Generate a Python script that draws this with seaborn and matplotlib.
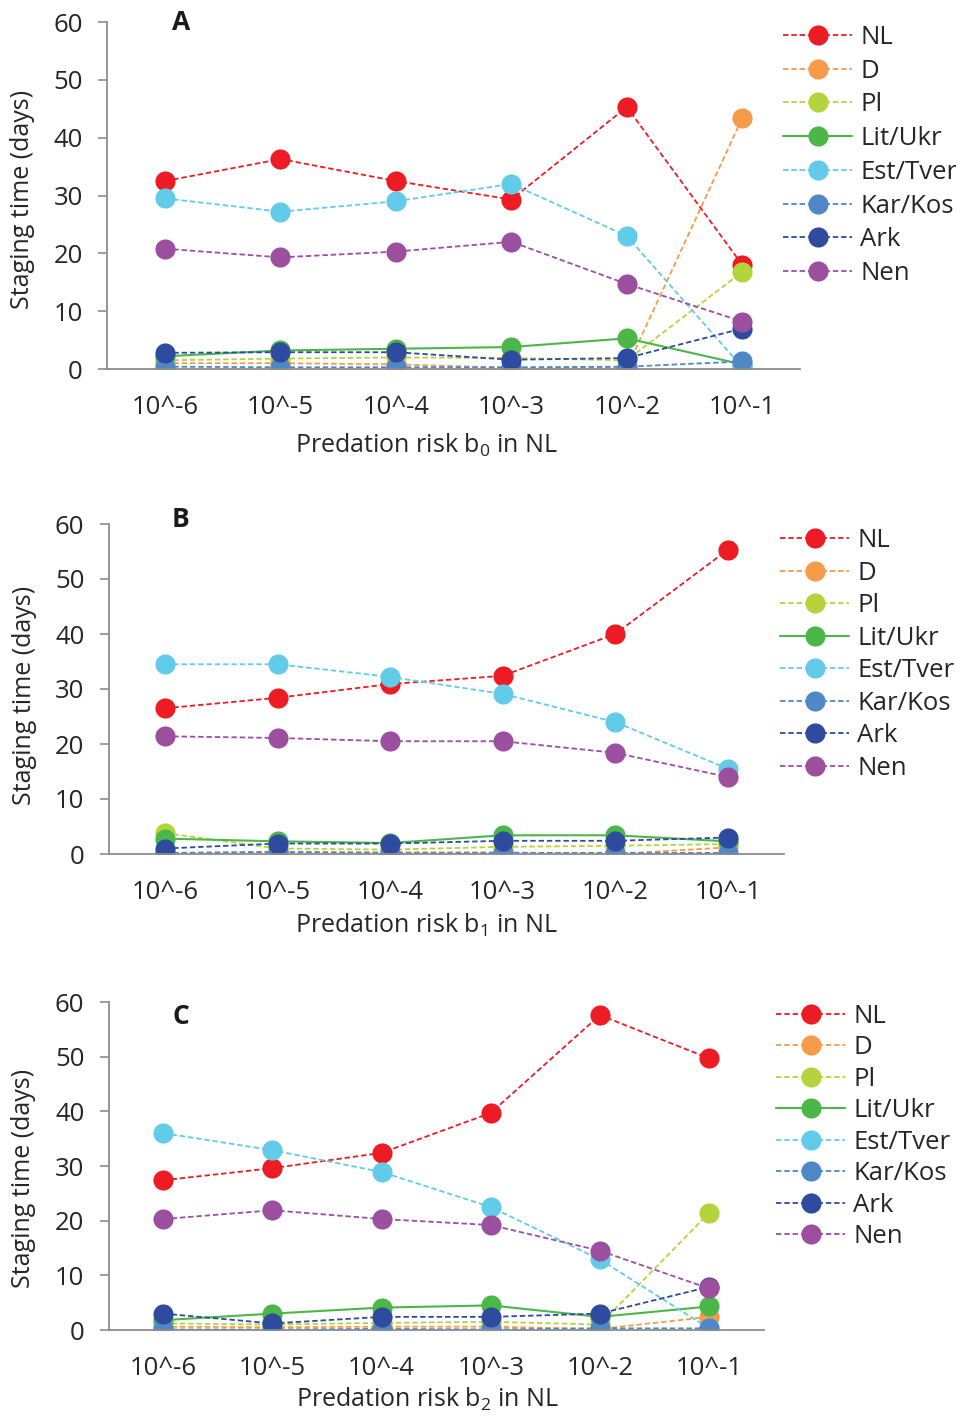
import matplotlib
matplotlib.use("Agg")
import matplotlib.pyplot as plt
import seaborn as sns
import numpy as np

sns.set_theme(style="white")
plt.rcParams['font.family'] = ['Open Sans', 'DejaVu Sans']
plt.rcParams['mathtext.fontset'] = 'custom'
plt.rcParams['mathtext.rm'] = 'Open Sans'
plt.rcParams['mathtext.it'] = 'Open Sans'

# ---------------- data ----------------
tick_labels = ["10^-6", "10^-5", "10^-4", "10^-3", "10^-2", "10^-1"]
regions = ["NL", "D", "Pl", "Lit/Ukr", "Est/Tver", "Kar/Kos", "Ark", "Nen"]

# Panel A (predation risk b0)
nl_a = [32.5, 36.3, 32.5, 29.3, 45.3, 18.0]
d_a = [1.0, 1.0, 0.8, 0.2, 0.2, 43.4]
pl_a = [1.5, 1.8, 2.0, 1.9, 1.5, 16.8]
lit_a = [2.2, 3.2, 3.5, 3.8, 5.3, 0.8]
est_a = [29.5, 27.2, 29.0, 32.0, 23.0, 0.3]
kar_a = [0.4, 0.3, 0.3, 0.3, 0.4, 1.3]
ark_a = [2.8, 2.9, 2.9, 1.6, 1.9, 7.0]
nen_a = [20.8, 19.3, 20.3, 22.0, 14.7, 8.2]

# Panel B (predation risk b1)
nl_b = [26.5, 28.4, 30.9, 32.4, 40.0, 55.3]
d_b = [0.0, 0.3, 0.3, 0.3, 0.0, 1.2]
pl_b = [3.8, 1.0, 0.8, 1.3, 1.5, 1.8]
lit_b = [2.8, 2.3, 2.0, 3.4, 3.4, 2.3]
est_b = [34.5, 34.5, 32.2, 29.1, 24.0, 15.5]
kar_b = [0.2, 0.4, 0.2, 0.2, 0.2, 0.2]
ark_b = [1.0, 1.9, 1.9, 2.4, 2.4, 3.0]
nen_b = [21.4, 21.1, 20.5, 20.5, 18.4, 14.0]

# Panel C (predation risk b2)
nl_c = [27.4, 29.6, 32.4, 39.7, 57.6, 49.7]
d_c = [0.6, 0.5, 0.6, 0.6, 0.2, 2.4]
pl_c = [1.2, 1.0, 1.3, 1.5, 1.0, 21.4]
lit_c = [1.8, 3.0, 4.1, 4.5, 2.4, 4.3]
est_c = [36.0, 32.9, 28.9, 22.5, 12.9, 0.3]
kar_c = [0.1, 0.1, 0.2, 0.1, 0.3, 0.3]
ark_c = [3.0, 1.2, 2.4, 2.4, 3.0, 7.9]
nen_c = [20.3, 21.9, 20.3, 19.2, 14.5, 7.6]

colors = {"NL": "#ED1C24", "D": "#F79A4A", "Pl": "#B5D33D", "Lit/Ukr": "#4BB749",
          "Est/Tver": "#62CBEA", "Kar/Kos": "#4F87C7", "Ark": "#2E4B9F", "Nen": "#9C4F9F"}
solid = {"Lit/Ukr"}

panels = [
    ("A", r"Predation risk b$_0$ in NL", [nl_a, d_a, pl_a, lit_a, est_a, kar_a, ark_a, nen_a]),
    ("B", r"Predation risk b$_1$ in NL", [nl_b, d_b, pl_b, lit_b, est_b, kar_b, ark_b, nen_b]),
    ("C", r"Predation risk b$_2$ in NL", [nl_c, d_c, pl_c, lit_c, est_c, kar_c, ark_c, nen_c]),
]

W, H = 956, 1416
fig = plt.figure(figsize=(W / 100, H / 100), dpi=100)

# pixel boxes: left, right, top, bottom
boxes = [(107.3, 800, 22, 369), (108.7, 784, 524, 854), (108.7, 763.6, 1002, 1330)]
title_pos = [(0.107, 1.0), (0.107, 1.015), (0.11, 0.957)]
xlabel_pos = [(0.46, -0.219), (0.471, -0.215), (0.486, -0.213)]
ylabel_pos = [(-0.123, 0.49), (-0.124, 0.48), (-0.130, 0.463)]
legend_pos = [(783, 25, 0.34), (780, 528, 0.295), (776, 1004, 0.25)]

gray = "#8C8C8C"
x = np.arange(len(tick_labels))

for (letter, xlabel, series), (l, r, t, b), tp, xp, yp, lp in zip(
        panels, boxes, title_pos, xlabel_pos, ylabel_pos, legend_pos):
    ax = fig.add_axes([l / W, 1 - b / H, (r - l) / W, (b - t) / H])
    for name, vals in zip(regions, series):
        sns.lineplot(x=x, y=vals, ax=ax, color=colors[name], marker="o",
                     markersize=14.5, markeredgewidth=0,
                     linewidth=1.5 if name in solid else 1.3,
                     linestyle="-" if name in solid else (0, (3, 1.6)),
                     label=name)
    ax.set_xlim(-0.5, 5.5)
    ax.set_ylim(0, 60)
    ax.set_yticks(range(0, 61, 10))
    ax.set_xticks(x)
    ax.set_xticklabels(tick_labels)
    ax.tick_params(axis="x", length=0, pad=19, labelsize=18.5, colors="#262626")
    ax.tick_params(axis="y", length=6.5, width=1.2, color=gray, pad=11,
                   labelsize=18.5, labelcolor="#262626", direction="out", left=True)
    for s in ["top", "right"]:
        ax.spines[s].set_visible(False)
    for s in ["left", "bottom"]:
        ax.spines[s].set_color(gray)
        ax.spines[s].set_linewidth(1.3)
    ax.set_xlabel(xlabel, fontsize=18, color="#262626")
    ax.xaxis.label.set_va("center")
    ax.xaxis.set_label_coords(*xp)
    ax.set_ylabel("Staging time (days)", fontsize=18, color="#262626")
    ax.yaxis.label.set_va("center")
    ax.yaxis.set_label_coords(*yp)
    ax.text(tp[0], tp[1], letter, transform=ax.transAxes, ha="center", va="center",
            fontsize=19, fontweight="bold", color="#1a1a1a")
    ax.grid(False)
    ax.set_facecolor("white")
    h, lab = ax.get_legend_handles_labels()
    lx, ly, ls = lp
    ax.legend(h, lab, loc="upper left", bbox_to_anchor=(lx / W, 1 - ly / H),
              bbox_transform=fig.transFigure, frameon=False, borderpad=0,
              borderaxespad=0, fontsize=18.5, labelspacing=ls, handlelength=2.7,
              handletextpad=0.3, labelcolor="#262626")

fig.savefig("out.png", dpi=100, facecolor="white")
